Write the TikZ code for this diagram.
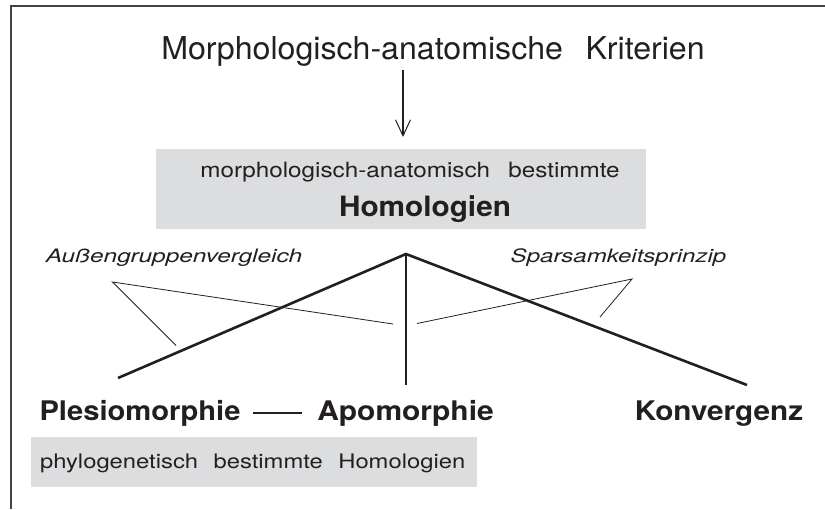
\documentclass[tikz,border=0pt]{standalone}
\usepackage{fontspec}
\setmainfont{TeX Gyre Heros}
\usetikzlibrary{arrows.meta}
\definecolor{ink}{HTML}{231F20}
\definecolor{panel}{HTML}{DCDDDF}
% widened word gap used in all multi-word labels
\newcommand{\wgap}[1]{\hspace{#1em}}
% horizontally widened text
\newcommand{\wide}[2]{\scalebox{#1}[1]{#2}}
\tikzset{
  lbl/.style={anchor=base, inner sep=0pt, text=ink},
  branch/.style={draw=ink, line width=2.6pt},
  hint/.style={draw=ink, line width=0.8pt},
  panelbox/.style={fill=panel, draw=none}
}
\begin{document}
\begin{tikzpicture}[x=1pt, y=-1pt]
  \useasboundingbox (0,0) rectangle (825,509);
  % frame (top and left edges)
  \draw[draw=ink!85, line width=1.4pt] (825,6) -- (11,6) -- (11,509);

  % title and arrow
  \node[lbl, font=\fontsize{31.5}{36}\selectfont] (title) at (433,59.3)
    {\wide{1.02}{Morphologisch-anatomische\wgap{0.7}Kriterien}};
  \coordinate (arrTop) at (403,70);
  \coordinate (arrEnd) at (403,137);
  \draw[draw=ink, line width=1.8pt, -{Straight Barb[length=16pt,width=15pt,line width=1pt]}] (arrTop) -- (arrEnd);

  % upper grey panel
  \fill[panelbox] (156,149) rectangle (646,229);
  \node[lbl, font=\fontsize{21}{24}\selectfont] (morph) at (410,177.7)
    {\wide{1.155}{morphologisch-anatomisch\wgap{0.75}bestimmte}};
  \node[lbl, font=\fontsize{28}{32}\selectfont\bfseries] (homol) at (425,216.7)
    {\wide{1.063}{Homologien}};

  % branch lines
  \coordinate (apex) at (406,254);
  \coordinate (endL) at (118,378);
  \coordinate (endM) at (406,385);
  \coordinate (endR) at (747,385);
  \draw[branch, line join=miter] (endL) -- (apex) -- (endR);
  \draw[branch] (apex) -- (endM);

  % criteria labels with pointer lines
  \node[lbl, font=\fontsize{18.5}{22}\selectfont\itshape] (aussen) at (174,262.3)
    {\wide{1.32}{Außengruppenvergleich}};
  \node[lbl, font=\fontsize{18.5}{22}\selectfont\itshape] (spars) at (618.5,262.3)
    {\wide{1.30}{Sparsamkeitsprinzip}};
  \coordinate (aTip) at (112.5,282);
  \coordinate (aEnd1) at (176,345.5);
  \coordinate (aEnd2) at (393,324);
  \coordinate (sTip) at (632,279);
  \coordinate (sEnd1) at (600,317);
  \coordinate (sEnd2) at (417,323.5);
  \draw[hint] (aEnd1) -- (aTip) -- (aEnd2);
  \draw[hint] (sEnd1) -- (sTip) -- (sEnd2);

  % resulting categories
  \node[lbl, font=\fontsize{27}{31}\selectfont\bfseries] (plesio) at (140,420) {\wide{1.08}{Plesiomorphie}};
  \node[lbl, font=\fontsize{27}{31}\selectfont\bfseries] (apo) at (405.5,420) {\wide{1.11}{Apomorphie}};
  \node[lbl, font=\fontsize{27}{31}\selectfont\bfseries] (konv) at (719,420) {\wide{1.10}{Konvergenz}};
  \coordinate (dashA) at (253,413);
  \coordinate (dashB) at (302,413);
  \draw[draw=ink, line width=1.2pt] (dashA) -- (dashB);

  % lower grey panel
  \fill[panelbox] (31,437) rectangle (477,487);
  \node[lbl, font=\fontsize{20}{24}\selectfont, anchor=base west] (phylo) at (40,468.3)
    {\wide{1.19}{phylogenetisch\wgap{0.65}bestimmte\wgap{0.65}Homologien}};
\end{tikzpicture}
\end{document}
